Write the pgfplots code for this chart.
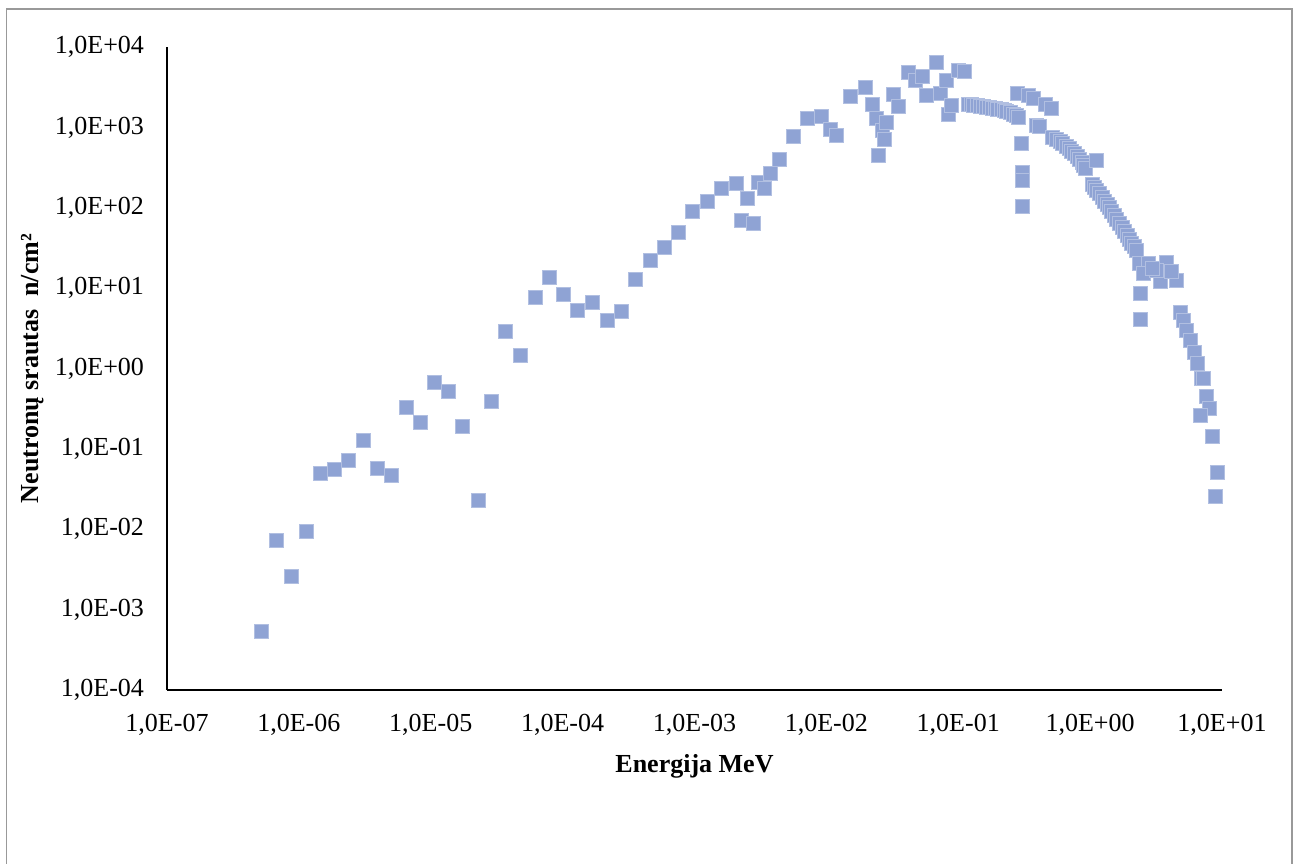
\documentclass[border=0pt]{standalone}
\usepackage{fontspec}
\setmainfont{Liberation Serif}
\usepackage{pgfplots}
\pgfplotsset{compat=1.18}
\definecolor{pts}{RGB}{143,163,212}

\pgfplotstableread{
x y
5.2e-7 5.3e-4
6.8e-7 7.3e-3
8.7e-7 2.6e-3
1.13e-6 9.5e-3
1.45e-6 0.050
1.85e-6 0.056
2.36e-6 0.073
3.06e-6 0.129
3.9e-6 0.058
5.0e-6 0.047
6.5e-6 0.33
8.3e-6 0.215
1.06e-5 0.68
1.37e-5 0.52
1.75e-5 0.19
2.28e-5 0.023
2.9e-5 0.39
3.7e-5 2.9
4.8e-5 1.47
6.2e-5 7.7
7.9e-5 13.7
1.02e-4 8.4
1.3e-4 5.3
1.67e-4 6.7
2.17e-4 4.0
2.77e-4 5.2
3.53e-4 12.9
4.6e-4 22.3
5.9e-4 32
7.5e-4 50
9.7e-4 91
1.24e-3 121
1.61e-3 175
2.06e-3 202
2.27e-3 70
2.53e-3 133
2.77e-3 64
3.04e-3 210
3.37e-3 174
3.73e-3 272
4.37e-3 399
5.6e-3 778
7.2e-3 1313
9.2e-3 1378
1.08e-2 942
1.19e-2 793
1.52e-2 2466
1.96e-2 3190
2.22e-2 1944
2.40e-2 1313
2.49e-2 455
2.65e-2 923
2.74e-2 713
2.86e-2 1170
3.23e-2 2566
3.5e-2 1850
4.15e-2 4860
4.71e-2 3900
5.36e-2 4330
5.75e-2 2535
6.84e-2 6530
7.26e-2 2640
8.05e-2 3860
8.37e-2 1446
8.89e-2 1890
9.97e-2 5140
0.112 5000
0.1183 1944
0.1248 1914
0.1312 1888
0.1384 1862
0.146 1836
0.1538 1808
0.1618 1782
0.1706 1758
0.1799 1734
0.1897 1710
0.1995 1683
0.2104 1660
0.2218 1614
0.2333 1567
0.2460 1524
0.2594 1459
0.2735 1400
0.2877 1340
0.280 2690
0.337 2520
0.374 2310
0.461 1945
0.504 1735
0.299 631
0.307 280
0.305 220
0.305 105
0.390 1060
0.410 1030
0.521 762
0.555 718
0.589 673
0.620 628
0.655 583
0.690 544
0.726 506
0.760 470
0.793 438
0.830 402
0.865 369
0.895 340
0.927 311
1.12 391
1.03 197
1.07 181
1.12 166
1.17 150
1.23 135
1.28 122
1.34 111
1.40 100
1.46 91
1.52 81
1.59 72
1.66 64
1.74 57
1.82 51
1.90 45.6
1.98 40.5
2.07 36.3
2.16 33
2.25 29.7
2.38 20.3
2.74 20.5
3.75 21.2
2.52 15.2
3.38 12.0
4.52 12.6
4.14 16.0
3.19 16.7
2.94 17.7
2.41 8.7
2.42 4.15
4.79 5.07
5.07 4.0
5.38 3.0
5.70 2.26
6.22 1.61
6.47 1.16
7.0 0.753
7.2 0.76
7.54 0.445
7.98 0.319
6.87 0.263
8.41 0.144
9.25 0.0505
8.82 0.0254
}\pts

\begin{document}
\begin{tikzpicture}
\useasboundingbox (-83.5pt,-86.5pt) rectangle (567pt,345pt);
\draw[gray!80, line width=0.8pt] (-80.25pt,-90pt) -- (-80.25pt,340.5pt) -- (562.5pt,340.5pt) -- (562.5pt,-90pt);
\begin{axis}[
    at={(0pt,0pt)}, anchor=south west,
    scale only axis,
    width=527.5pt, height=321.5pt,
    xmode=log, ymode=log,
    xmin=1e-7, xmax=1e1,
    ymin=1e-4, ymax=1e4,
    axis x line*=bottom, axis y line*=left,
    axis line style={line width=1pt, black, -},
    major tick length=0pt,
    minor tick length=0pt,
    xminorticks=false, yminorticks=false,
    xtick={1e-7,1e-6,1e-5,1e-4,1e-3,1e-2,1e-1,1e0,1e1},
    xticklabels={{1,0E-07},{1,0E-06},{1,0E-05},{1,0E-04},{1,0E-03},{1,0E-02},{1,0E-01},{1,0E+00},{1,0E+01}},
    ytick={1e-4,1e-3,1e-2,1e-1,1e0,1e1,1e2,1e3,1e4},
    yticklabels={{1,0E-04},{1,0E-03},{1,0E-02},{1,0E-01},{1,0E+00},{1,0E+01},{1,0E+02},{1,0E+03},{1,0E+04}},
    ticklabel style={font=\fontsize{13}{15}\selectfont},
    xticklabel style={yshift=-8.5pt},
    yticklabel style={xshift=-8pt},
    xlabel={\textbf{Energija MeV}},
    ylabel={\textbf{Neutronų srautas\ \ n/cm²}},
    label style={font=\fontsize{13}{15}\selectfont},
    xlabel style={at={(axis description cs:0.5,-0.119)}, anchor=center},
    ylabel style={at={(axis description cs:-0.127,0.5)}, anchor=center},
    clip=false,
]
\addplot[only marks, mark=square*, mark size=3.5pt,
         mark options={fill=pts, draw=pts!70!white, line width=0.3pt}]
    table[x=x, y=y] {\pts};
\end{axis}
\end{tikzpicture}
\end{document}
